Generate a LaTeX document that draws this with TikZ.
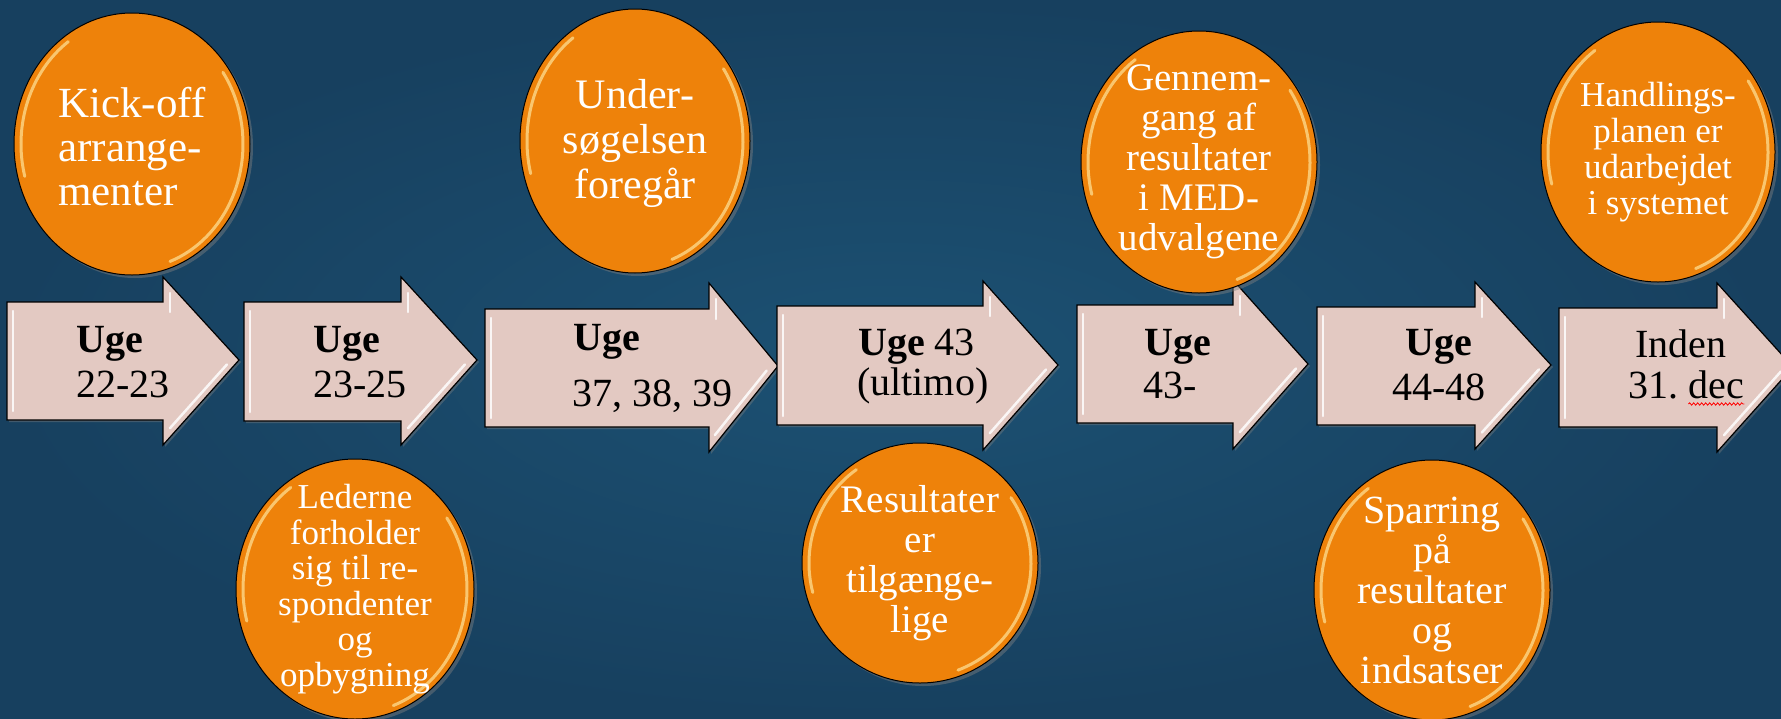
\documentclass[tikz,border=0pt]{standalone}
\usepackage{fontspec}
\setmainfont{Liberation Serif}
\usetikzlibrary{shapes.geometric,shadows,calc,decorations.pathmorphing}
\definecolor{bgin}{HTML}{1C5173}
\definecolor{bgout}{HTML}{17405F}
\definecolor{orng}{HTML}{EE820A}
\definecolor{arrfill}{HTML}{E3C9C2}
\definecolor{glow}{HTML}{FFE49A}
\newcommand\fs[2]{\fontsize{#1}{#2}\selectfont}
% name, L, T, B, HB, HT, HBot, TX, TY
\newcommand\timearrow[9]{%
  \draw[arrowbody] (#2,#3) -- (#5,#3) -- (#5,#6) -- (#8,#9) -- (#5,#7) -- (#5,#4) -- (#2,#4) -- cycle;
  \draw[bevel] ($(#2,#3)+(6,9)$) -- ($(#2,#4)+(6,-9)$);
  \draw[bevel] ($(#5,#6)+(7,16)$) -- ($(#5,#3)+(7,10)$);
  \draw[bevel] ($(#8,#9)!0.1!(#5,#7)+(-4.5,-4)$) -- ($(#8,#9)!0.85!(#5,#7)+(-4.5,-4)$);
  \coordinate (#1) at (#2,#3);
}
% node, inner rx, inner ry
\newcommand\gloss[3]{%
  \draw[glowline] ($(#1.center)+({#2*cos(165)},{#3*sin(165)})$) arc[start angle=165, end angle=235, x radius=#2, y radius=#3];
  \draw[glowline] ($(#1.center)+({#2*cos(-35)},{#3*sin(-35)})$) arc[start angle=-35, end angle=70, x radius=#2, y radius=#3];
}
\tikzset{
  arrowbody/.style={fill=arrfill, draw=black, line width=1.2pt, line join=miter,
    drop shadow={opacity=0.4, shadow xshift=2pt, shadow yshift=-2pt}},
  bevel/.style={white, line width=2.5pt, opacity=0.85, line cap=round},
  bubble/.style={ellipse, fill=orng, draw=black, line width=1pt, inner sep=0pt,
    drop shadow={opacity=0.45, shadow xshift=3pt, shadow yshift=-3pt}},
  glowline/.style={glow, line width=3pt, opacity=0.7, line cap=round},
  bubbletext/.style={text=white, align=center, inner sep=0pt},
  arrtext/.style={text=black, anchor=base west, inner sep=0pt, font=\fs{40}{40}},
}
\begin{document}
\begin{tikzpicture}[x=1pt, y=-1pt]
\useasboundingbox (0,0) rectangle (1781,718);
\shade[inner color=bgin, outer color=bgout] (0,0) rectangle (1781,718);

% arrows
\timearrow{a1}{7}{302}{420}{163}{277}{445}{239}{360}
\timearrow{a2}{244}{302}{421}{401}{277}{445}{477}{360}
\timearrow{a3}{485}{309}{427}{709}{283}{452}{778}{366}
\timearrow{a4}{777}{306}{425}{983}{281}{450}{1058}{365}
\timearrow{a5}{1077}{305}{423}{1233}{280}{449}{1308}{364}
\timearrow{a6}{1317}{307}{425}{1475}{282}{449}{1551}{365}
\timearrow{a7}{1559}{308}{427}{1717}{283}{452}{1793}{367}

% arrow texts
\node[arrtext] (a1u) at (76,352) {\bfseries Uge};
\node[arrtext] (a1n) at (76,397) {22-23};
\node[arrtext] (a2u) at (313,352) {\bfseries Uge};
\node[arrtext] (a2n) at (313,397) {23-25};
\node[arrtext] (a3u) at (573,350) {\bfseries Uge};
\node[arrtext] (a3n) at (572,406) {37, 38, 39};
\node[arrtext] (a4u) at (858,355) {\bfseries Uge\mdseries{} 43};
\node[arrtext] (a4n) at (857,395) {(ultimo)};
\node[arrtext] (a5u) at (1144,355) {\bfseries Uge};
\node[arrtext] (a5n) at (1143,398) {43-};
\node[arrtext] (a6u) at (1405,355) {\bfseries Uge};
\node[arrtext] (a6n) at (1392,400) {44-48};
\node[arrtext] (a7u) at (1635,357) {Inden};
\node[arrtext] (a7n) at (1628,398) {31.};
\node[arrtext] (a7d) at ([xshift=10pt]a7n.base east) {dec};
\draw[red, line width=0.8pt, decorate, decoration={snake, amplitude=1.2pt, segment length=4pt}]
  ([yshift=-6pt]a7d.base west) -- ([yshift=-6pt]a7d.base east);

% top circles
\node[bubble, minimum width=236, minimum height=262] (c1) at (132,144) {};
\gloss{c1}{111}{125}
\node[bubbletext, align=left, font=\fs{43}{44}] (t1) at ([yshift=-3pt]c1.center) {Kick-off\\arrange-\\menter};

\node[bubble, minimum width=230, minimum height=264] (c3) at (635,141) {};
\gloss{c3}{108}{126}
\node[bubbletext, font=\fs{42}{45}] (t3) at ([yshift=-2pt]c3.center) {Under-\\søgelsen\\foregår};

\node[bubble, minimum width=236, minimum height=262] (c5) at (1199,162) {};
\gloss{c5}{111}{125}
\node[bubbletext, font=\fs{39}{40}] (t5) at (c5.center) {Gennem-\\gang af\\resultater\\i MED-\\udvalgene};

\node[bubble, minimum width=234, minimum height=260] (c7) at (1658,152) {};
\gloss{c7}{110}{124}
\node[bubbletext, font=\fs{35}{36}] (t7) at (c7.center) {Handlings-\\planen er\\udarbejdet\\i systemet};

% bottom circles
\node[bubble, minimum width=238, minimum height=260] (c2) at (355,589) {};
\gloss{c2}{112}{124}
\node[bubbletext, font=\fs{35}{35.5}] (t2) at (c2.center) {Lederne\\forholder\\sig til re-\\spondenter\\og\\opbygning};

\node[bubble, minimum width=236, minimum height=240] (c4) at (920,563) {};
\gloss{c4}{111}{114}
\node[bubbletext, font=\fs{39}{40}] (t4) at (c4.center) {Resultater\\er\\tilgænge-\\lige};

\node[bubble, minimum width=236, minimum height=260] (c6) at (1432,590) {};
\gloss{c6}{111}{124}
\node[bubbletext, font=\fs{40}{40}] (t6) at (c6.center) {Sparring\\på\\resultater\\og\\indsatser};
\end{tikzpicture}
\end{document}
